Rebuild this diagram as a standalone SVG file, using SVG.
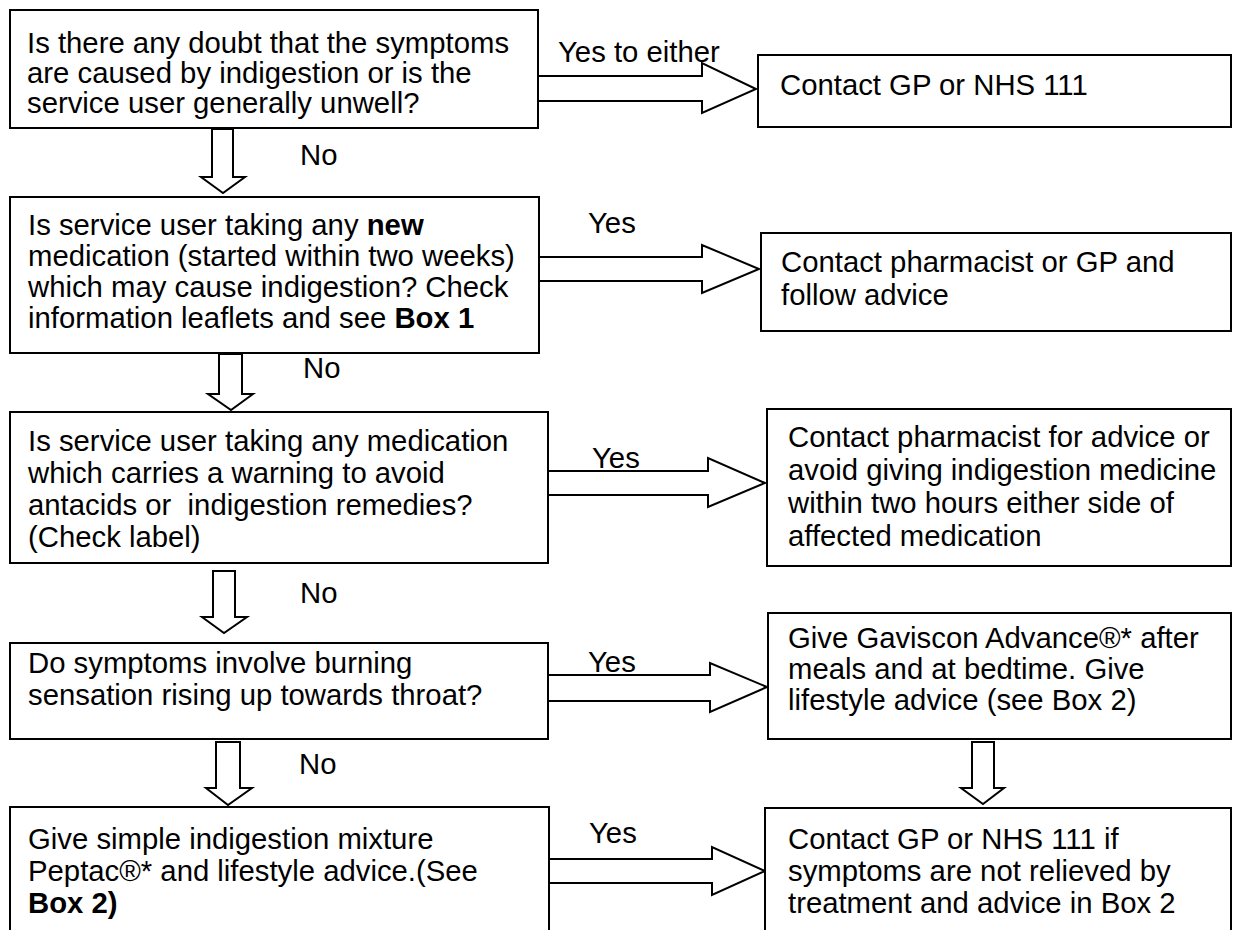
<svg xmlns="http://www.w3.org/2000/svg" width="1234" height="930" viewBox="0 0 1234 930">
  <style>
    .box { fill: #ffffff; stroke: #000000; stroke-width: 2; }
    .arrow { fill: #ffffff; stroke: #000000; stroke-width: 2; stroke-linejoin: miter; }
    text { font-family: "Liberation Sans", Arial, sans-serif; font-size: 29.3px; fill: #000000; }
    .b { font-weight: bold; }
  </style>
  <rect width="1234" height="930" fill="#ffffff"/>

  <!-- connectors: block arrows -->
  <g id="connectors">
    <!-- right arrows (Yes branches) -->
    <polygon class="arrow" points="538,76 702,76 702,63 756,89 702,113 702,101 538,101"/>
    <polygon class="arrow" points="539,257 702,257 702,245 759,269 702,293 702,281 539,281"/>
    <polygon class="arrow" points="548,471 708,471 708,458 765,483 708,507 708,495 548,495"/>
    <polygon class="arrow" points="548,675 710,675 710,663 767,687 710,712 710,701 548,701"/>
    <polygon class="arrow" points="549,859 712,859 712,847 765,871 712,895 712,883 549,883"/>
    <!-- down arrows (No branches) -->
    <polygon class="arrow" points="212,129 233,129 233,177 245,177 223,193 201,177 212,177"/>
    <polygon class="arrow" points="219,354 242,354 242,394 253,394 231,410 208,394 219,394"/>
    <polygon class="arrow" points="213,571 235,571 235,617 247,617 224,633 202,617 213,617"/>
    <polygon class="arrow" points="216,742 240,742 240,788 252,788 228,805 206,788 216,788"/>
    <polygon class="arrow" points="972,742 994,742 994,788 1004,788 983,804 961,788 972,788"/>
    <!-- branch labels -->
    <text x="558" y="62">Yes to either</text>
    <text x="300" y="165">No</text>
    <text x="588" y="233">Yes</text>
    <text x="303" y="378">No</text>
    <text x="592" y="468">Yes</text>
    <text x="300" y="603">No</text>
    <text x="588" y="672">Yes</text>
    <text x="299" y="774">No</text>
    <text x="589" y="843">Yes</text>
  </g>

  <g id="q1">
    <rect class="box" x="10" y="10" width="528" height="118"/>
    <text x="27" y="53">Is there any doubt that the symptoms</text>
    <text x="27" y="83">are caused by indigestion or is the</text>
    <text x="27" y="113">service user generally unwell?</text>
  </g>
  <g id="a1">
    <rect class="box" x="758" y="55" width="473" height="72"/>
    <text x="780" y="95">Contact GP or NHS 111</text>
  </g>

  <g id="q2">
    <rect class="box" x="10" y="197" width="529" height="156"/>
    <text x="28" y="235">Is service user taking any <tspan class="b">new</tspan></text>
    <text x="28" y="266">medication (started within two weeks)</text>
    <text x="28" y="297">which may cause indigestion? Check</text>
    <text x="28" y="328">information leaflets and see <tspan class="b">Box 1</tspan></text>
  </g>
  <g id="a2">
    <rect class="box" x="761" y="233" width="470" height="98"/>
    <text x="781" y="272">Contact pharmacist or GP and</text>
    <text x="781" y="305">follow advice</text>
  </g>

  <g id="q3">
    <rect class="box" x="10" y="412" width="538" height="151"/>
    <text x="28" y="451">Is service user taking any medication</text>
    <text x="28" y="483">which carries a warning to avoid</text>
    <text x="28" y="515" xml:space="preserve">antacids or  indigestion remedies?</text>
    <text x="28" y="547">(Check label)</text>
  </g>
  <g id="a3">
    <rect class="box" x="767" y="409" width="464" height="157"/>
    <text x="788" y="447">Contact pharmacist for advice or</text>
    <text x="788" y="480">avoid giving indigestion medicine</text>
    <text x="788" y="513">within two hours either side of</text>
    <text x="788" y="546">affected medication</text>
  </g>

  <g id="q4">
    <rect class="box" x="10" y="643" width="538" height="96"/>
    <text x="28" y="673">Do symptoms involve burning</text>
    <text x="28" y="705">sensation rising up towards throat?</text>
  </g>
  <g id="a4">
    <rect class="box" x="768" y="613" width="463" height="126"/>
    <text x="788" y="648">Give Gaviscon Advance®* after</text>
    <text x="788" y="679">meals and at bedtime. Give</text>
    <text x="788" y="710">lifestyle advice (see Box 2)</text>
  </g>

  <g id="q5">
    <rect class="box" x="10" y="807" width="539" height="135"/>
    <text x="28" y="849">Give simple indigestion mixture</text>
    <text x="28" y="881">Peptac®* and lifestyle advice.(See</text>
    <text x="28" y="913"><tspan class="b">Box 2)</tspan></text>
  </g>
  <g id="a5">
    <rect class="box" x="765" y="808" width="466" height="134"/>
    <text x="788" y="849">Contact GP or NHS 111 if</text>
    <text x="788" y="881">symptoms are not relieved by</text>
    <text x="788" y="913">treatment and advice in Box 2</text>
  </g>
</svg>
